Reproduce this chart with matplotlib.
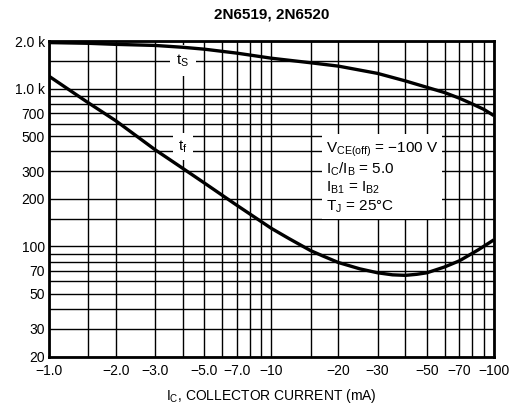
import matplotlib
matplotlib.use("Agg")

import matplotlib.pyplot as plt
import matplotlib.ticker as ticker

# ---- data (|I_C| in mA, time in ns) ----
ic_ts = [1.0, 1.5, 2.0, 3.0, 4.0, 5.0, 7.0, 10, 15, 20, 30, 40, 50, 60, 70, 80, 90, 100]
ts_ns = [1960, 1940, 1910, 1880, 1830, 1780, 1680, 1560, 1460, 1390, 1250, 1120,
         1020, 945, 870, 800, 740, 675]

ic_tf = [1.0, 1.5, 2.0, 3.0, 4.0, 5.0, 7.0, 10, 12, 15, 17, 20, 25, 30, 35, 40, 45,
         50, 60, 70, 85, 100]
tf_ns = [1200, 815, 625, 410, 312, 252, 182, 130, 112, 94, 87, 79, 72, 68, 66, 65.5,
         66.5, 68, 74, 81, 95, 110]

x_ticks = [1.0, 2.0, 3.0, 5.0, 7.0, 10, 20, 30, 50, 70, 100]
x_labels = ["\u22121.0", "\u22122.0", "\u22123.0", "\u22125.0", "\u22127.0", "\u221210",
            "\u221220", "\u221230", "\u221250", "\u221270", "\u2212100"]
x_grid = [1.5, 4, 6, 8, 9, 15, 40, 60, 80, 90]

y_ticks = [20, 30, 50, 70, 100, 200, 300, 500, 700, 1000, 2000]
y_labels = ["20", "30", "50", "70", "100", "200", "300", "500", "700", "1.0 k", "2.0 k"]
y_grid = [40, 60, 80, 90, 150, 400, 600, 800, 900, 1500]

FONT = ["Liberation Sans", "DejaVu Sans"]
plt.rcParams["font.family"] = FONT
plt.rcParams["mathtext.fontset"] = "custom"
plt.rcParams["mathtext.rm"] = "Liberation Sans"
plt.rcParams["mathtext.default"] = "regular"

fig = plt.figure(figsize=(5.29, 4.08), dpi=100)
ax = fig.add_axes([0.0926, 0.126, 0.841, 0.773])

ax.plot(ic_ts, ts_ns, color="black", lw=2.4, solid_capstyle="butt",
        solid_joinstyle="round", zorder=4)
ax.plot(ic_tf, tf_ns, color="black", lw=2.4, solid_capstyle="butt",
        solid_joinstyle="round", zorder=4)

ax.set_xscale("log")
ax.set_yscale("log")
ax.set_xlim(1, 100)
ax.set_ylim(20, 2000)

ax.xaxis.set_major_locator(ticker.FixedLocator(x_ticks))
ax.xaxis.set_major_formatter(ticker.FixedFormatter(x_labels))
ax.xaxis.set_minor_locator(ticker.FixedLocator(x_grid))
ax.xaxis.set_minor_formatter(ticker.NullFormatter())
ax.yaxis.set_major_locator(ticker.FixedLocator(y_ticks))
ax.yaxis.set_major_formatter(ticker.FixedFormatter(y_labels))
ax.yaxis.set_minor_locator(ticker.FixedLocator(y_grid))
ax.yaxis.set_minor_formatter(ticker.NullFormatter())

ax.grid(True, which="both", color="black", lw=1.0)
ax.set_axisbelow(True)
ax.tick_params(which="both", length=0, labelsize=10)
ax.tick_params(axis="x", pad=5)
ax.tick_params(axis="y", pad=3)
for s in ax.spines.values():
    s.set_linewidth(2.0)

# curve labels with white boxes that hide the grid
ax.text(4.0, 1510, "$t_S$", fontsize=11, ha="center", va="center", zorder=3,
        bbox=dict(facecolor="white", edgecolor="none", pad=5))
ax.text(4.0, 430, "$t_f$", fontsize=11, ha="center", va="center", zorder=3,
        bbox=dict(facecolor="white", edgecolor="none", pad=4))

ax.text(0.622, 0.685,
        "$V_{CE(off)}$ = \u2212100 V\n$I_C$/$I_B$ = 5.0\n$I_{B1}$ = $I_{B2}$\n$T_J$ = 25\u00b0C",
        transform=ax.transAxes, fontsize=11, ha="left", va="top", zorder=3,
        linespacing=1.15,
        bbox=dict(facecolor="white", edgecolor="none", pad=3))

ax.set_title("2N6519, 2N6520", fontsize=11, fontweight="bold", pad=16)
ax.set_xlabel("$I_C$, COLLECTOR CURRENT (mA)", fontsize=10, labelpad=7)

fig.savefig("out.png", dpi=100)
